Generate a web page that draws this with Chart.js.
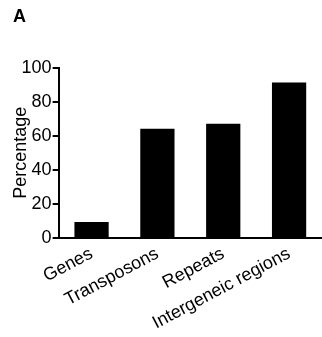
<!DOCTYPE html>
<html>
<head>
<meta charset="utf-8">
<script src="https://cdn.jsdelivr.net/npm/chart.js@4"></script>
<style>
html, body { margin: 0; padding: 0; background: #fff; }
#wrap { width: 322px; height: 337px; position: relative; }
</style>
</head>
<body>
<div id="wrap"><canvas id="chart"></canvas></div>
<script>
// data
const categories = ['Genes', 'Transposons', 'Repeats', 'Intergeneic regions'];
const percentages = [9.4, 64.1, 67.0, 91.2];
const yTicks = [0, 20, 40, 60, 80, 100];

const font = { family: 'Liberation Sans, Arial, sans-serif', size: 18 };

const chart = new Chart(document.getElementById('chart'), {
	type: 'bar',
	data: {
		labels: categories,
		datasets: [{
			label: 'Percentage',
			data: percentages,
			backgroundColor: '#000',
			borderWidth: 0,
			categoryPercentage: 1.0,
			barPercentage: 0.52
		}]
	},
	options: {
		responsive: true,
		maintainAspectRatio: false,
		animation: false,
		layout: { padding: { left: 13, right: 0, top: 0, bottom: -2 } },
		plugins: {
			legend: { display: false },
			tooltip: { enabled: false },
			title: {
				display: true,
				text: 'A',
				align: 'start',
				color: '#000',
				font: { family: font.family, size: 18, weight: 'bold' },
				padding: { top: 6, bottom: 40 }
			}
		},
		scales: {
			x: {
				grid: { display: true, drawOnChartArea: false, drawTicks: false },
				border: { color: '#000', width: 2 },
				ticks: {
					color: '#000',
					font: font,
					minRotation: 28,
					maxRotation: 28,
					padding: 5
				}
			},
			y: {
				min: 0,
				max: 100,
				afterBuildTicks: (axis) => { axis.ticks = yTicks.map(v => ({ value: v })); },
				grid: { display: true, drawOnChartArea: false, drawTicks: true, tickLength: 6, color: '#000', lineWidth: 2 },
				border: { color: '#000', width: 2 },
				ticks: { color: '#000', font: font, padding: 1 },
				title: { display: true, text: 'Percentage', color: '#000', font: font, padding: { top: -3, bottom: -11 } }
			}
		}
	}
});
</script>
</body>
</html>
